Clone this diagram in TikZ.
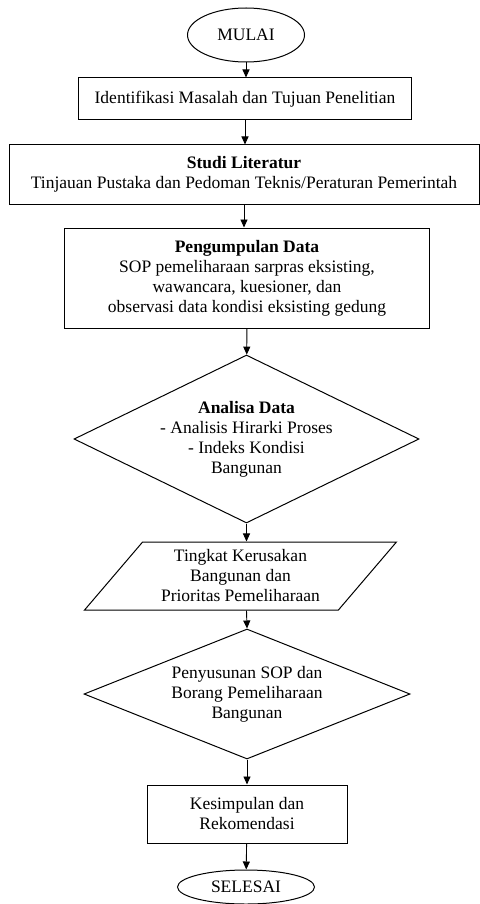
\documentclass[tikz,border=0pt]{standalone}
\usepackage{fontspec}
\setmainfont{Liberation Serif}
\usetikzlibrary{shapes.geometric,arrows.meta}
\begin{document}
\begin{tikzpicture}[x=1pt,y=-1pt,
  font=\fontsize{17.5}{20}\selectfont,
  box/.style={draw,line width=1pt,rectangle,align=center,inner sep=0pt},
  term/.style={draw,line width=1pt,ellipse,inner sep=0pt},
  decide/.style={draw,line width=1pt,diamond,align=center,inner sep=0pt},
  io/.style={draw,line width=1pt,trapezium,trapezium left angle=48,
    trapezium right angle=132,trapezium stretches=true,align=center,inner sep=0pt},
  flow/.style={-{Triangle[length=8pt,width=7pt]},line width=0.9pt}]
\useasboundingbox (0,0) rectangle (479,904);

% start and end
\node[term,minimum width=117,minimum height=54] (mulai) at (246,35) {MULAI};
\node[term,minimum width=137,minimum height=34] (selesai) at (246,887) {SELESAI};

% process boxes
\node[box,minimum width=333,minimum height=42] (identifikasi) at (245,99)
  {Identifikasi Masalah dan Tujuan Penelitian};
\node[box,minimum width=470,minimum height=59] (literatur) at (244,174.5)
  {\textbf{Studi Literatur}\\Tinjauan Pustaka dan Pedoman Teknis/Peraturan Pemerintah};
\node[box,minimum width=365,minimum height=100] (pengumpulan) at (247,278)
  {\textbf{Pengumpulan Data}\\SOP pemeliharaan sarpras eksisting,\\wawancara, kuesioner, dan\\observasi data kondisi eksisting gedung};
\node[decide,aspect=2.05,minimum width=345,minimum height=168] (analisa) at (246.5,439)
  {\textbf{Analisa Data}\\- Analisis Hirarki Proses\\- Indeks Kondisi\\Bangunan};
\node[io,minimum width=313,minimum height=68] (tingkat) at (240.5,576)
  {Tingkat Kerusakan\\Bangunan dan\\Prioritas Pemeliharaan};
\node[decide,aspect=2.5,minimum width=326,minimum height=130] (penyusunan) at (247,694)
  {Penyusunan SOP dan\\Borang Pemeliharaan\\Bangunan};
\node[box,minimum width=200,minimum height=58] (kesimpulan) at (247,814)
  {Kesimpulan dan\\Rekomendasi};

% arrows
\draw[flow] (mulai) -- (mulai.south |- identifikasi.north);
\draw[flow] (identifikasi.south) -- (identifikasi.south |- literatur.north);
\draw[flow] (literatur.south) -- (literatur.south |- pengumpulan.north);
\draw[flow] (pengumpulan) -- (analisa);
\draw[flow] (analisa.south) -- (analisa.south |- tingkat.north);
\draw[flow] (analisa.south |- tingkat.south) -- (penyusunan.north);
\draw[flow] (penyusunan) -- (kesimpulan);
\draw[flow] (kesimpulan) -- (selesai);
\end{tikzpicture}
\end{document}
